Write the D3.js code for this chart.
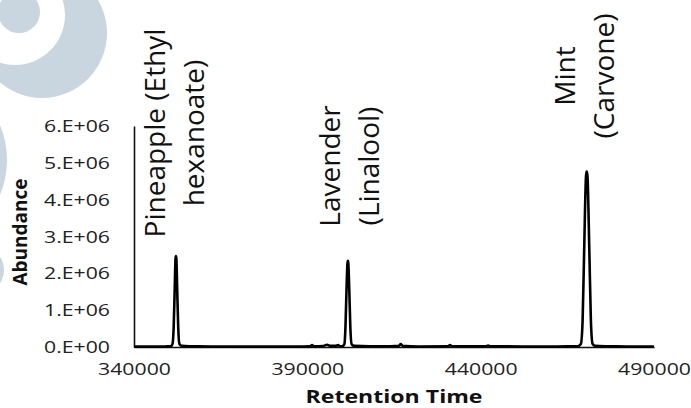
<!DOCTYPE html>
<html>
<head>
<meta charset="utf-8">
<script src="https://cdn.jsdelivr.net/npm/d3@7"></script>
<style>
  body { margin: 0; background: #fff; }
  svg { display: block; }
</style>
</head>
<body>
<svg id="chart"></svg>
<script>
const width = 691
const height = 408

// retention time / abundance
const retention = [340000, 345000, 349000, 350600, 351100, 351450, 351750, 351980, 352100, 352220,
                   352450, 352750, 353100, 353800, 356000, 362000, 370000, 380000, 388000, 390800,
                   391350, 391900, 394500, 395700, 396600, 398200, 398860, 399500, 400250, 400700,
                   401000, 401300, 401580, 401700, 401820, 402100, 402400, 402800, 403500, 408000,
                   414000, 416400, 416950, 417500, 422000, 430500, 431170, 431800, 441500, 442140,
                   442800, 452000, 462000, 468000, 468900, 469400, 469850, 470400, 470600, 470800,
                   471350, 471800, 472300, 473000, 476000, 482000, 490000]
const abundance = [0.010e6, 0.010e6, 0.015e6, 0.020e6, 0.080e6, 0.55e6, 1.60e6, 2.40e6, 2.47e6, 2.40e6,
                   1.60e6, 0.55e6, 0.080e6, 0.030e6, 0.020e6, 0.015e6, 0.010e6, 0.010e6, 0.015e6, 0.020e6,
                   0.050e6, 0.020e6, 0.025e6, 0.060e6, 0.030e6, 0.030e6, 0.050e6, 0.020e6, 0.030e6, 0.080e6,
                   0.55e6, 1.55e6, 2.28e6, 2.34e6, 2.28e6, 1.55e6, 0.55e6, 0.070e6, 0.030e6, 0.020e6,
                   0.020e6, 0.030e6, 0.080e6, 0.030e6, 0.015e6, 0.020e6, 0.050e6, 0.020e6, 0.020e6, 0.040e6,
                   0.020e6, 0.015e6, 0.015e6, 0.020e6, 0.080e6, 0.70e6, 2.60e6, 4.65e6, 4.76e6, 4.65e6,
                   2.60e6, 0.70e6, 0.080e6, 0.030e6, 0.020e6, 0.015e6, 0.015e6]

const xTicks = [340000, 390000, 440000, 490000]
const yTicks = [0, 1e6, 2e6, 3e6, 4e6, 5e6, 6e6]
const yTickLabels = ["0.E+00", "1.E+06", "2.E+06", "3.E+06", "4.E+06", "5.E+06", "6.E+06"]

const peakLabels = [["Pineapple (Ethyl", "hexanoate)"], ["Lavender", "(Linalool)"], ["Mint", "(Carvone)"]]

// where each label block sits (first baseline x, centre y, line step)
const labelPos = [{x: 165, y: 133}, {x: 339.5, y: 166}, {x: 575, y: 76}]
const lineStep = 39

const svg = d3.select("#chart")
            .attr("width", width)
            .attr("height", height)

// faded logo shapes in the background
const logo = svg.append("g").attr("fill", "#c9d6df")
logo.append("circle").attr("cx", 42).attr("cy", 33).attr("r", 65)
logo.append("circle").attr("cx", 15).attr("cy", 15).attr("r", 50).attr("fill", "#fff")
logo.append("circle").attr("cx", 19).attr("cy", 12).attr("r", 21)
logo.append("circle").attr("cx", -84).attr("cy", 160).attr("r", 91)
logo.append("circle").attr("cx", -20).attr("cy", 270).attr("r", 24)

const x = d3.scaleLinear().domain([340000, 490000]).range([134, 654])
const y = d3.scaleLinear().domain([0, 6e6]).range([347, 126])

const stretch = 1.37

const xAxis = svg.append("g")
    .attr("transform", `translate(0,${y(0)})`)
    .call(d3.axisBottom(x).tickValues(xTicks).tickSize(0).tickSizeOuter(0).tickPadding(0).tickFormat(d3.format("d")))
xAxis.select(".domain").attr("stroke", "#111").attr("stroke-width", 1.6)
xAxis.selectAll("text")
    .attr("y", 28)
    .attr("dy", null)
    .attr("transform", `scale(${stretch},1)`)
    .attr("fill", "#222")
    .style("font-family", "'Open Sans'")
    .style("font-size", "15.5px")

const yAxis = svg.append("g")
    .attr("transform", `translate(${x(340000)},0)`)
    .call(d3.axisLeft(y).tickValues(yTicks).tickSize(0).tickSizeOuter(0)
          .tickFormat((d, i) => yTickLabels[i]))
yAxis.select(".domain").attr("stroke", "#111").attr("stroke-width", 1.6)
yAxis.selectAll("text")
    .attr("x", -24 / stretch)
    .attr("dy", "0.36em")
    .attr("transform", `scale(${stretch},1)`)
    .attr("fill", "#222")
    .style("font-family", "'Open Sans'")
    .style("font-size", "15.5px")

// axis titles
svg.append("text")
    .attr("x", 0)
    .attr("y", 0)
    .attr("text-anchor", "middle")
    .attr("transform", "translate(394,403) scale(1.32,1)")
    .style("font-family", "'Open Sans'")
    .style("font-weight", "bold")
    .style("font-size", "17.5px")
    .attr("fill", "#111")
    .text("Retention Time")

svg.append("text")
    .attr("transform", "translate(27,232) rotate(-90)")
    .attr("text-anchor", "middle")
    .style("font-family", "'Open Sans'")
    .style("font-weight", "bold")
    .style("font-size", "19px")
    .attr("fill", "#111")
    .text("Abundance")

// chromatogram trace
const line = d3.line()
    .x(d => x(d[0]))
    .y(d => y(d[1]))
    .curve(d3.curveMonotoneX)

svg.append("path")
    .datum(d3.zip(retention, abundance))
    .attr("d", line)
    .attr("fill", "none")
    .attr("stroke", "#000")
    .attr("stroke-width", 2.6)
    .attr("stroke-linejoin", "round")

// peak labels, vertical text
peakLabels.forEach((lines, i) => {
    const g = svg.append("g")
        .attr("transform", `translate(${labelPos[i].x},${labelPos[i].y}) rotate(-90)`)
    lines.forEach((t, j) => {
        g.append("text")
            .attr("x", 0)
            .attr("y", j * lineStep)
            .attr("text-anchor", "middle")
            .style("font-family", "'Open Sans'")
            .style("font-size", "28px")
            .attr("fill", "#111")
            .text(t)
    })
})
</script>
</body>
</html>
